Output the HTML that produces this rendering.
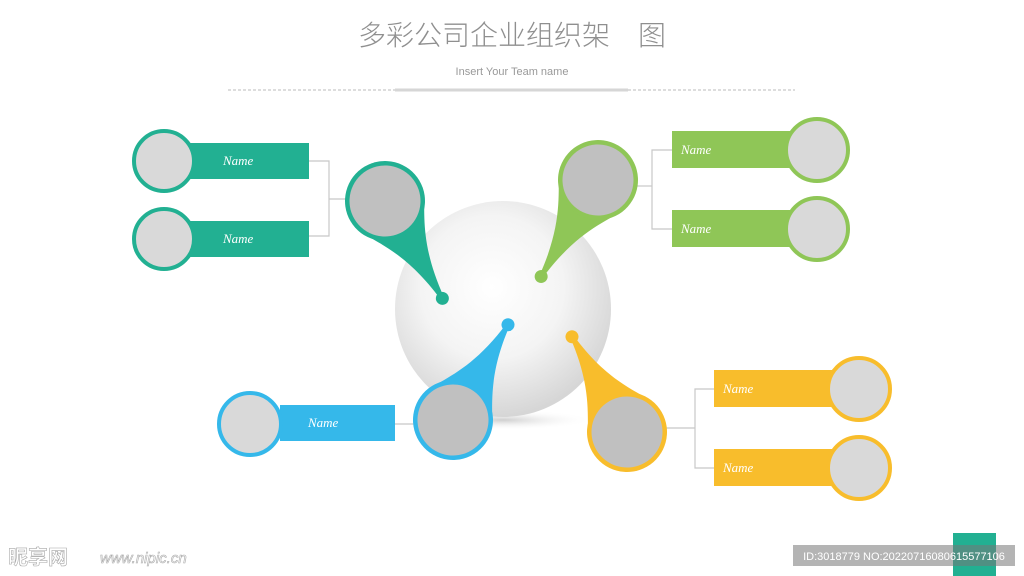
<!DOCTYPE html>
<html><head><meta charset="utf-8">
<style>
html,body{margin:0;padding:0;background:#fff;}
svg{display:block;}
.nm{font-family:"Liberation Serif",serif;font-style:italic;font-size:13px;fill:#fff;}
</style></head>
<body>
<svg width="1024" height="576" viewBox="0 0 1024 576" xmlns="http://www.w3.org/2000/svg">
<defs>
<radialGradient id="sph" cx="0.45" cy="0.4" r="0.6">
<stop offset="0" stop-color="#ffffff"/>
<stop offset="0.55" stop-color="#f4f4f4"/>
<stop offset="1" stop-color="#d6d6d6"/>
</radialGradient>
<radialGradient id="shd" cx="0.5" cy="0.5" r="0.5">
<stop offset="0" stop-color="#cfcfcf"/>
<stop offset="1" stop-color="#ffffff" stop-opacity="0"/>
</radialGradient>
</defs>

<text x="512" y="45" text-anchor="middle" font-family="Liberation Sans,'Noto Sans CJK SC',sans-serif" font-size="28" font-weight="300" fill="#8f8f8f">多彩公司企业组织架　图</text>
<text x="512" y="75" text-anchor="middle" font-family="Liberation Sans,sans-serif" font-size="11" fill="#999">Insert Your Team name</text>
<line x1="228" y1="90" x2="795" y2="90" stroke="#bbb" stroke-width="1" stroke-dasharray="3,2"/>
<rect x="395" y="88.5" width="233" height="3" fill="#d6d6d6"/>

<ellipse cx="503" cy="420" rx="90" ry="10" fill="url(#shd)"/>
<circle cx="503" cy="309" r="108" fill="url(#sph)"/>

<g stroke="#c8c8c8" stroke-width="1.2" fill="none">
<polyline points="309,161 329,161 329,236 309,236"/>
<line x1="329" y1="199" x2="347" y2="199"/>
<polyline points="672,150 652,150 652,229 672,229"/>
<line x1="636" y1="186" x2="652" y2="186"/>
<line x1="395" y1="424" x2="415" y2="424"/>
<polyline points="714,389 695,389 695,468 714,468"/>
<line x1="665" y1="428" x2="695" y2="428"/>
</g>

<g fill="#22b092">
<rect x="190" y="143" width="119" height="36"/>
<rect x="190" y="221" width="119" height="36"/>
</g>
<circle cx="164" cy="161" r="30" fill="#d9d9d9" stroke="#22b092" stroke-width="4"/>
<circle cx="164" cy="239" r="30" fill="#d9d9d9" stroke="#22b092" stroke-width="4"/>
<text class="nm" x="223" y="165">Name</text>
<text class="nm" x="223" y="243">Name</text>

<g fill="#8fc657">
<rect x="672" y="131" width="118" height="37"/>
<rect x="672" y="210" width="118" height="37"/>
</g>
<circle cx="817" cy="150" r="31" fill="#d9d9d9" stroke="#8fc657" stroke-width="4"/>
<circle cx="817" cy="229" r="31" fill="#d9d9d9" stroke="#8fc657" stroke-width="4"/>
<text class="nm" x="681" y="154">Name</text>
<text class="nm" x="681" y="233">Name</text>

<rect x="280" y="405" width="115" height="36" fill="#35b8ea"/>
<circle cx="250" cy="424" r="31" fill="#d9d9d9" stroke="#35b8ea" stroke-width="4"/>
<text class="nm" x="308" y="427">Name</text>

<g fill="#f8bd2c">
<rect x="714" y="370" width="118" height="37"/>
<rect x="714" y="449" width="118" height="37"/>
</g>
<circle cx="859" cy="389" r="31" fill="#d9d9d9" stroke="#f8bd2c" stroke-width="4"/>
<circle cx="859" cy="468" r="31" fill="#d9d9d9" stroke="#f8bd2c" stroke-width="4"/>
<text class="nm" x="723" y="393">Name</text>
<text class="nm" x="723" y="472">Name</text>

<g transform="translate(385,201) rotate(-30.5)" fill="#22b092">
<path d="M-38,12 C-28,32 -8,55 -2,113 L2,113 C8,55 28,32 38,12 Z"/>
<circle cx="0" cy="0" r="40"/>
<circle cx="0" cy="113" r="6.5"/>
<circle cx="0" cy="0" r="35.5" fill="#c0c0c0"/>
</g>
<g transform="translate(598,180) rotate(30.5)" fill="#8fc657">
<path d="M-38,12 C-28,32 -8,55 -2,112 L2,112 C8,55 28,32 38,12 Z"/>
<circle cx="0" cy="0" r="40"/>
<circle cx="0" cy="112" r="6.5"/>
<circle cx="0" cy="0" r="35.5" fill="#c0c0c0"/>
</g>
<g transform="translate(453,420) rotate(210)" fill="#35b8ea">
<path d="M-38,12 C-28,32 -8,55 -2,110 L2,110 C8,55 28,32 38,12 Z"/>
<circle cx="0" cy="0" r="40"/>
<circle cx="0" cy="110" r="6.5"/>
<circle cx="0" cy="0" r="35.5" fill="#c0c0c0"/>
</g>
<g transform="translate(627,432) rotate(150)" fill="#f8bd2c">
<path d="M-38,12 C-28,32 -8,55 -2,110 L2,110 C8,55 28,32 38,12 Z"/>
<circle cx="0" cy="0" r="40"/>
<circle cx="0" cy="110" r="6.5"/>
<circle cx="0" cy="0" r="35.5" fill="#c0c0c0"/>
</g>

<text x="8" y="564" font-family="Liberation Sans,'Noto Sans CJK SC',sans-serif" font-size="20" font-weight="bold" fill="#fff" stroke="#aaa" stroke-width="0.6">昵享网</text>
<text x="100" y="563" font-family="Liberation Sans,sans-serif" font-size="15" font-style="italic" fill="#fff" stroke="#aaa" stroke-width="0.6">www.nipic.cn</text>
<rect x="953" y="533" width="43" height="43" fill="#22b092"/>
<rect x="793" y="545" width="222" height="21" fill="#777" opacity="0.55"/>
<text x="904" y="560" text-anchor="middle" font-family="Liberation Sans,sans-serif" font-size="11" fill="#fff">ID:3018779 NO:20220716080615577106</text>
</svg>
</body></html>
